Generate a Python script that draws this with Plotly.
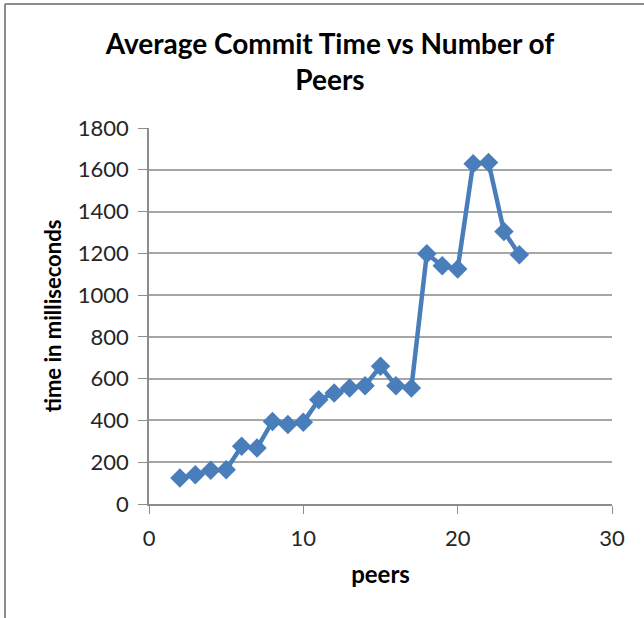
import plotly.graph_objects as go

peers = [2, 3, 4, 5, 6, 7, 8, 9, 10, 11, 12, 13, 14, 15, 16, 17, 18, 19, 20, 21, 22, 23, 24]
commit_ms = [124, 140, 161, 164, 276, 268, 395, 380, 391, 499, 531, 555, 566, 659, 566, 555,
             1198, 1141, 1125, 1629, 1635, 1305, 1193]
x_ticks = [0, 10, 20, 30]
y_ticks = [0, 200, 400, 600, 800, 1000, 1200, 1400, 1600, 1800]

W, H = 644, 618
L, R, T, B = 149, 32, 128, 114
pw, ph = W - L - R, H - T - B

fig = go.Figure()
fig.add_trace(go.Scatter(
    x=peers, y=commit_ms, mode="lines+markers",
    line=dict(color="#4a7ebb", width=4.5),
    marker=dict(symbol="diamond", size=15, color="#4a7ebb"),
    showlegend=False,
))

font_main = "Lato, Liberation Sans, Arial, sans-serif"
fig.update_layout(
    width=W, height=H,
    margin=dict(l=L, r=R, t=T, b=B),
    paper_bgcolor="white", plot_bgcolor="white",
    font=dict(family=font_main, color="#262626"),
    title=dict(
        text="<b>Average Commit Time vs Number of<br>Peers</b>",
        x=330 / W, xanchor="center", xref="container",
        y=1 - 54 / H, yanchor="middle", yref="container",
        font=dict(size=28, color="#000000", family=font_main),
    ),
    xaxis=dict(
        range=[0, 30], tickvals=x_ticks, ticks="outside", ticklen=8,
        tickcolor="#8c8c8c", showline=True, linecolor="#8c8c8c", linewidth=1.5,
        showgrid=False, zeroline=False, ticklabelstandoff=6,
        tickfont=dict(size=22, color="#262626"),
        title=dict(text="<b>peers</b>", font=dict(size=24, color="#000000"), standoff=16),
    ),
    yaxis=dict(
        range=[0, 1800], tickvals=y_ticks, ticks="outside", ticklen=9,
        tickcolor="#8c8c8c", showline=True, linecolor="#8c8c8c", linewidth=1.5,
        showgrid=True, gridcolor="#a6a6a6", gridwidth=1.5, zeroline=False,
        ticklabelstandoff=5,
        tickfont=dict(size=22, color="#262626"),
        title=dict(text="<b>time in milliseconds</b>", font=dict(size=22, color="#000000"), standoff=10),
    ),
)

def px_x(px):
    return (px - L) / pw

def px_y(py):
    return (H - B - py) / ph

fig.add_shape(type="line", xref="paper", yref="paper",
              x0=px_x(5), x1=px_x(650), y0=px_y(4), y1=px_y(4),
              line=dict(color="#8c8c8c", width=2))
fig.add_shape(type="line", xref="paper", yref="paper",
              x0=px_x(5), x1=px_x(5), y0=px_y(4), y1=px_y(625),
              line=dict(color="#8c8c8c", width=2))

fig.write_html("out.html", config={"displayModeBar": False},
               post_script="document.body.style.margin='0';document.body.style.padding='0';")
